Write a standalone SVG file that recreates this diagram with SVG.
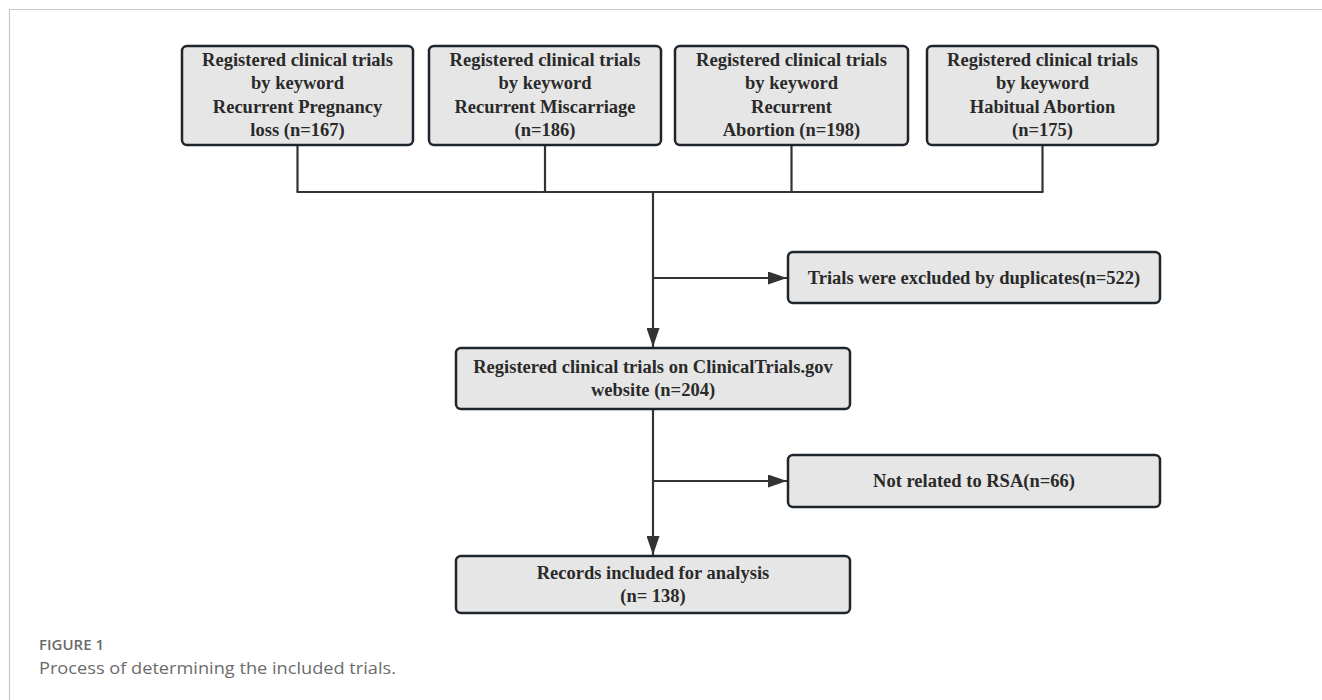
<svg xmlns="http://www.w3.org/2000/svg" width="1322" height="700" viewBox="0 0 1322 700">
<defs>
<style>
.box{fill:#e6e6e6;stroke:#1e252c;stroke-width:2.5}
.t{font-family:"Liberation Serif","Times New Roman",serif;font-weight:bold;font-size:18.5px;fill:#2a2a2a;text-anchor:middle}
.c{fill:none;stroke:#333;stroke-width:2.2}
.cap1{font-family:"Open Sans","Liberation Sans",sans-serif;font-weight:600;font-size:15px;fill:#6b6b6b}
.cap2{font-family:"Open Sans","Liberation Sans",sans-serif;font-size:17px;fill:#6b6b6b}
</style>
<marker id="ah" viewBox="0 0 19 13" refX="19" refY="6.5" markerWidth="19" markerHeight="13" markerUnits="userSpaceOnUse" orient="auto">
<path d="M0,0 L19,6.5 L0,13 Z" fill="#333"/>
</marker>
</defs>
<rect width="1322" height="700" fill="#fff"/>
<path d="M9.5,700 V9.5 H1322" fill="none" stroke="#c8c8c8" stroke-width="1.2"/>

<g id="connectors">
<path class="c" d="M297.5,145 V192"/>
<path class="c" d="M545,145 V192"/>
<path class="c" d="M791.5,145 V192"/>
<path class="c" d="M1042.5,145 V192"/>
<path class="c" d="M296.5,192 H1043.5"/>
<path class="c" d="M653,192 V347" marker-end="url(#ah)"/>
<path class="c" d="M653,278 H787" marker-end="url(#ah)"/>
<path class="c" d="M653,409 V555" marker-end="url(#ah)"/>
<path class="c" d="M653,481 H787" marker-end="url(#ah)"/>
</g>

<g id="n1">
<rect class="box" x="182" y="46" width="231" height="99" rx="5"/>
<text class="t" x="297.5" y="66">Registered clinical trials</text>
<text class="t" x="297.5" y="89">by keyword</text>
<text class="t" x="297.5" y="113">Recurrent Pregnancy</text>
<text class="t" x="297.5" y="136">loss (n=167)</text>
</g>
<g id="n2">
<rect class="box" x="429" y="46" width="232" height="99" rx="5"/>
<text class="t" x="545" y="66">Registered clinical trials</text>
<text class="t" x="545" y="89">by keyword</text>
<text class="t" x="545" y="113">Recurrent Miscarriage</text>
<text class="t" x="545" y="136">(n=186)</text>
</g>
<g id="n3">
<rect class="box" x="675" y="46" width="233" height="99" rx="5"/>
<text class="t" x="791.5" y="66">Registered clinical trials</text>
<text class="t" x="791.5" y="89">by keyword</text>
<text class="t" x="791.5" y="113">Recurrent</text>
<text class="t" x="791.5" y="136">Abortion (n=198)</text>
</g>
<g id="n4">
<rect class="box" x="927" y="46" width="231" height="99" rx="5"/>
<text class="t" x="1042.5" y="66">Registered clinical trials</text>
<text class="t" x="1042.5" y="89">by keyword</text>
<text class="t" x="1042.5" y="113">Habitual Abortion</text>
<text class="t" x="1042.5" y="136">(n=175)</text>
</g>
<g id="n5">
<rect class="box" x="788" y="252" width="372" height="51" rx="5"/>
<text class="t" x="974" y="284">Trials were excluded by duplicates(n=522)</text>
</g>
<g id="n6">
<rect class="box" x="456" y="348" width="394" height="61" rx="5"/>
<text class="t" x="653" y="373">Registered clinical trials on ClinicalTrials.gov</text>
<text class="t" x="653" y="396">website (n=204)</text>
</g>
<g id="n7">
<rect class="box" x="788" y="455" width="372" height="52" rx="5"/>
<text class="t" x="974" y="487">Not related to RSA(n=66)</text>
</g>
<g id="n8">
<rect class="box" x="456" y="556" width="394" height="57" rx="5"/>
<text class="t" x="653" y="579">Records included for analysis</text>
<text class="t" x="653" y="602">(n= 138)</text>
</g>

<text class="cap1" x="39" y="650">FIGURE 1</text>
<text class="cap2" x="39" y="674" textLength="357" lengthAdjust="spacingAndGlyphs">Process of determining the included trials.</text>
</svg>
